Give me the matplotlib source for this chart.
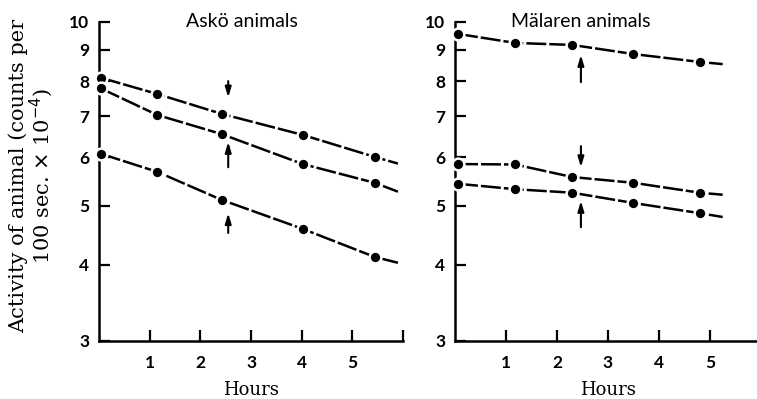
import numpy as np
import matplotlib.pyplot as plt


########## Data: Askö animals #################
asko_hours = [0.04, 1.15, 2.42, 4.02, 5.44]
asko_a = [8.1, 7.62, 7.07, 6.53, 6.01]
asko_b = [7.78, 7.04, 6.55, 5.85, 5.45]
asko_c = [6.08, 5.68, 5.11, 4.58, 4.12]
# where the fitted curves run out past the last point
asko_tail_x = 5.9
asko_tail = [5.86, 5.27, 4.03]

########## Data: Mälaren animals #################
mal_hours = [0.06, 1.18, 2.3, 3.5, 4.8]
mal_a = [9.56, 9.24, 9.17, 8.86, 8.6]
mal_b = [5.85, 5.84, 5.57, 5.45, 5.25]
mal_c = [5.43, 5.32, 5.25, 5.05, 4.86]
mal_tail_x = 5.25
mal_tail = [8.53, 5.21, 4.79]

############ arrows (hour, tail, head) ##########
asko_arrows = [(2.55, 8.0, 7.52), (2.55, 5.78, 6.36), (2.55, 4.51, 4.86)]
mal_arrows = [(2.47, 7.97, 8.83), (2.47, 6.26, 5.78), (2.47, 4.61, 5.09)]

yticks = [3, 4, 5, 6, 7, 8, 9, 10]
xticks = [1, 2, 3, 4, 5, 6]
xlabels = ['1', '2', '3', '4', '5', '']

sans = ['Lato', 'DejaVu Sans']
serif = ['DejaVu Serif']

fig = plt.figure(figsize=(7.57, 3.99), dpi=100)
ax1 = fig.add_axes([0.1308, 0.1454, 0.4016, 0.7995])
ax2 = fig.add_axes([0.601, 0.1454, 0.4042, 0.7995])


def draw_panel(ax, hours, series, tail_x, tails, arrows, title, tx):
    for vals, t in zip(series, tails):
        ax.plot(list(hours) + [tail_x], list(vals) + [t], color='black',
                lw=1.8, ls=(0, (8, 1.2)), marker='o', ms=8.5,
                markevery=list(range(len(hours))), mfc='black',
                mec='white', mew=1.8, clip_on=False, zorder=3)
    for x, y0, y1 in arrows:
        ax.annotate('', xy=(x, y1), xytext=(x, y0),
                    arrowprops=dict(arrowstyle='-|>,head_length=0.6,head_width=0.18',
                                    color='black', lw=1.5, shrinkA=0, shrinkB=0))
    ax.set_yscale('log')
    ax.set_ylim(3, 10)
    ax.set_xlim(0, 6)
    ax.set_yticks(yticks)
    ax.set_yticklabels([str(v) for v in yticks])
    ax.minorticks_off()
    ax.set_xticks(xticks)
    ax.set_xticklabels(xlabels)
    for s in ['top', 'right']:
        ax.spines[s].set_visible(False)
    for s in ['left', 'bottom']:
        ax.spines[s].set_linewidth(1.8)
    ax.tick_params(direction='in', length=8, width=1.6, pad=7)
    ax.tick_params(axis='x', pad=10)
    for lab in ax.get_xticklabels() + ax.get_yticklabels():
        lab.set_family(sans)
        lab.set_fontweight('bold')
        lab.set_fontsize(12.5)
    ax.text(tx, 1.0, title, transform=ax.transAxes, ha='center', va='center',
            family=sans, fontsize=14)
    ax.set_xlabel('Hours', family=serif, fontsize=13, labelpad=7)


draw_panel(ax1, asko_hours, [asko_a, asko_b, asko_c], asko_tail_x, asko_tail,
           asko_arrows, 'Askö animals', 0.47)
draw_panel(ax2, mal_hours, [mal_a, mal_b, mal_c], mal_tail_x, mal_tail,
           mal_arrows, 'Mälaren animals', 0.41)

############### y axis label #####################
fig.text(0.024, 0.56, 'Activity of animal (counts per', rotation=90,
         ha='center', va='center', family=serif, fontsize=15)
fig.text(0.055, 0.56, '100 sec. $\\times$ 10$^{-4}$)', rotation=90,
         ha='center', va='center', family=serif, fontsize=15)

fig.savefig('out.png', dpi=100)
